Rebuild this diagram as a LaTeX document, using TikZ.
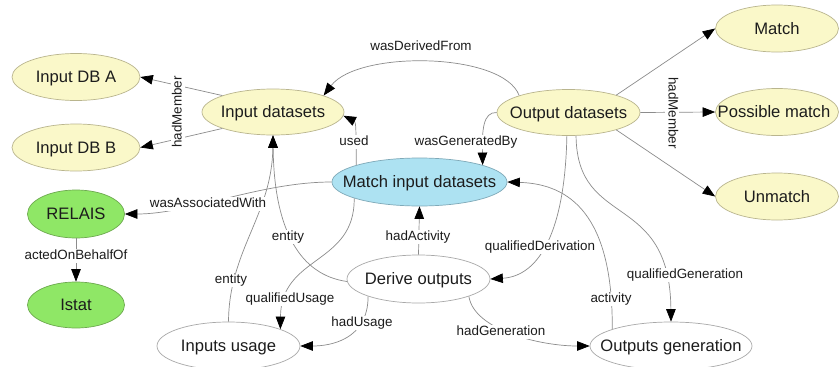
\documentclass[tikz,border=0pt]{standalone}
\usepackage{fontspec}
\setmainfont{Liberation Sans}
\usetikzlibrary{shapes.geometric,arrows.meta}

\definecolor{entfill}{HTML}{FAF8C9}
\definecolor{entline}{HTML}{B9B58E}
\definecolor{actfill}{HTML}{ADE2F2}
\definecolor{actline}{HTML}{7FA9B8}
\definecolor{agtfill}{HTML}{8FE766}
\definecolor{agtline}{HTML}{6DA94F}
\definecolor{qualline}{HTML}{A8A8A8}
\definecolor{edgecol}{HTML}{8C8C8C}
\definecolor{ink}{HTML}{1C1C1C}

% node text is boxed to zero width so the ellipse keeps its given size
\newcommand\nt[1]{\makebox[0pt]{#1}}

\begin{document}
\begin{tikzpicture}[x=1pt,y=-1pt,
  base/.style={ellipse, inner sep=0pt, text=ink, line width=0.7pt,
    font=\fontsize{16.6}{20}\selectfont, text height=11.9pt, text depth=0pt},
  entitynode/.style={base, fill=entfill, draw=entline},
  activitynode/.style={base, fill=actfill, draw=actline},
  agentnode/.style={base, fill=agtfill, draw=agtline},
  qualnode/.style={base, fill=white, draw=qualline},
  lbl/.style={fill=white, inner sep=1pt, text=ink,
    font=\fontsize{13.4}{16}\selectfont, text height=9.6pt, text depth=2.6pt},
  rel/.style={draw=edgecol, line width=0.7pt,
    -{Triangle[length=12.5pt,width=9.5pt,color=black]}}
]
\useasboundingbox (0,0) rectangle (839,367);
\fill[white] (0,0) rectangle (839,367);

% ---- nodes ----
\node[entitynode, minimum width=128pt, minimum height=47pt] (dba) at (76,77) {\nt{Input DB A}};
\node[entitynode, minimum width=128pt, minimum height=47pt] (dbb) at (76,147.5) {\nt{Input DB B}};
\node[entitynode, minimum width=142pt, minimum height=46pt] (inds) at (273,112) {\nt{Input datasets}};
\node[entitynode, minimum width=143pt, minimum height=46pt] (outds) at (568.5,112.5) {\nt{Output datasets}};
\node[entitynode, minimum width=123pt, minimum height=47pt] (match) at (777,28.5) {\nt{Match}};
\node[entitynode, minimum width=123pt, minimum height=47pt] (pmatch) at (777,112) {\nt{\hspace{-6pt}Possible match}};
\node[entitynode, minimum width=123pt, minimum height=47pt] (unmatch) at (777,196.5) {\nt{Unmatch}};
\node[activitynode, minimum width=175pt, minimum height=48pt] (mid) at (419.5,182) {\nt{Match input datasets}};
\node[agentnode, minimum width=97pt, minimum height=48pt] (relais) at (76,214) {\nt{RELAIS}};
\node[agentnode, minimum width=97pt, minimum height=46pt] (istat) at (76,305) {\nt{Istat}};
\node[qualnode, minimum width=143pt, minimum height=48pt] (deriv) at (418.5,279) {\nt{Derive outputs}};
\node[qualnode, minimum width=143pt, minimum height=48pt] (iu) at (228.5,346) {\nt{Inputs usage}};
\node[qualnode, minimum width=162pt, minimum height=48pt] (og) at (671,346) {\nt{Outputs generation}};

% ---- connectors ----
\draw[rel] (inds.162) -- (dba.east);
\draw[rel] (inds.198) -- (dbb.east);
\draw[rel] (outds.20) -- (match.west);
\draw[rel] (outds.east) -- (pmatch.west);
\draw[rel] (outds.-20) -- (unmatch.west);
\draw[rel] (outds.161) .. controls (503,52) and (358,50) .. (inds.18);
\draw[rel] (mid.165) .. controls (356,130) and (356,122) .. (inds.-3);
\draw[rel] (outds.west) .. controls (483,112) and (482,130) .. (mid.15);
\draw[rel] (mid.west) .. controls (260,182) and (190,214) .. (relais.east);
\draw[rel] (relais.south) -- (istat.north);
\draw[rel] (deriv.north) -- (mid.south);
\draw[rel] (deriv.182) .. controls (300,275) and (274,230) .. (inds.south);
\draw[rel] (iu.north) .. controls (229,250) and (272,215) .. (inds.south);
\draw[rel] (mid.194) .. controls (355,265) and (281,255) .. (iu.18);
\draw[rel] (deriv.199) .. controls (368,340) and (330,346) .. (iu.east);
\draw[rel] (deriv.341) .. controls (474,330) and (540,346) .. (og.west);
\draw[rel] (outds.266) .. controls (565,230) and (540,276) .. (deriv.east);
\draw[rel] (outds.288) .. controls (577,230) and (670,190) .. (og.north);
\draw[rel] (og.164) .. controls (613,215) and (570,184) .. (mid.east);

% ---- connector labels ----
\node[lbl, rotate=90] (l-hm-in) at (178,112) {hadMember};
\node[lbl, rotate=-90] (l-hm-out) at (672,113) {hadMember};
\node[lbl] (l-wdf) at (421,47) {wasDerivedFrom};
\node[lbl] (l-used) at (354,142) {used};
\node[lbl] (l-wgb) at (466,142) {wasGeneratedBy};
\node[lbl] (l-waw) at (208,204) {wasAssociatedWith};
\node[lbl] (l-aob) at (76,256) {actedOnBehalfOf};
\node[lbl] (l-ha) at (418,237) {hadActivity};
\node[lbl] (l-ent1) at (288,237) {entity};
\node[lbl] (l-ent2) at (231,280) {entity};
\node[lbl] (l-qu) at (290,299) {qualifiedUsage};
\node[lbl] (l-hu) at (362,323) {hadUsage};
\node[lbl] (l-hg) at (501,332) {hadGeneration};
\node[lbl] (l-qd) at (540,247) {qualifiedDerivation};
\node[lbl] (l-qg) at (685,275) {qualifiedGeneration};
\node[lbl] (l-act) at (611,299) {activity};
\end{tikzpicture}
\end{document}
